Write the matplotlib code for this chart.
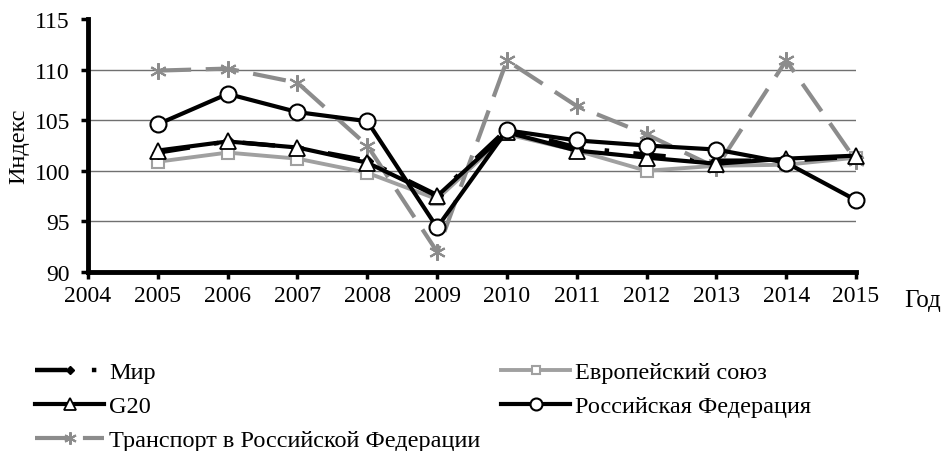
import numpy as np
import matplotlib
matplotlib.use("Agg")
import matplotlib.pyplot as plt

plt.rcParams['font.family'] = ['Liberation Serif', 'DejaVu Serif']

# data
years = [2005, 2006, 2007, 2008, 2009, 2010, 2011, 2012, 2013, 2014, 2015]
mir = [101.8, 102.9, 102.3, 101.0, 97.6, 104.1, 102.3, 101.6, 101.0, 101.0, 101.4]
eu = [100.9, 101.8, 101.2, 99.8, 97.2, 103.6, 102.0, 100.0, 100.5, 100.6, 101.3]
g20 = [102.0, 102.9, 102.3, 100.8, 97.5, 103.8, 102.0, 101.3, 100.7, 101.2, 101.5]
rf = [104.6, 107.6, 105.8, 104.9, 94.4, 104.0, 103.0, 102.5, 102.1, 100.8, 97.1]
transport = [109.9, 110.1, 108.7, 102.5, 92.0, 110.9, 106.4, 103.6, 100.3, 110.9, 101.0]

xticks = list(range(2004, 2016))
yticks = [90, 95, 100, 105, 110, 115]

fig = plt.figure(figsize=(9.49, 4.52), dpi=100)
ax = fig.add_axes([88 / 949, 1 - 273 / 452, (856 - 88) / 949, (273 - 20) / 452])

gray = '#8c8c8c'
l_eu, = ax.plot(years, eu, color='#a0a0a0', lw=2.8, marker='s', ms=8.5,
                mfc='white', mec='#a0a0a0', mew=1.5, clip_on=False, zorder=3,
                label='Европейский союз')
l_mir, = ax.plot(years, mir, color='black', lw=3.2, dashes=(7.3, 5.5, 1, 5.5),
                 marker='D', ms=6, mfc='black', mec='black', clip_on=False,
                 zorder=4, label='Мир')
l_tr, = ax.plot(years, transport, color=gray, lw=3, dashes=(8, 3.5),
                marker=(6, 2, 0), ms=12, mec=gray, mew=1.5, clip_on=False,
                zorder=5, label='Транспорт в Российской Федерации')
l_g20, = ax.plot(years, g20, color='black', lw=3, marker='^', ms=12,
                 mfc='white', mec='black', mew=1.3, clip_on=False, zorder=6,
                 label='G20')
l_rf, = ax.plot(years, rf, color='black', lw=3, marker='o', ms=11.5,
                mfc='white', mec='black', mew=1.5, clip_on=False, zorder=7,
                label='Российская Федерация')

ax.set_xlim(2004, 2015)
ax.set_ylim(90, 115)
ax.set_xticks(xticks)
ax.set_yticks(yticks)
ax.tick_params(axis='both', labelsize=17, width=2.5, length=5, direction='out')
ax.tick_params(axis='x', pad=4)
ax.tick_params(axis='y', pad=8)
ax.grid(axis='y', color='#707070', lw=1)
ax.yaxis.get_gridlines()[-1].set_visible(False)
ax.set_axisbelow(True)
for s in ['top', 'right']:
    ax.spines[s].set_visible(False)
for s in ['left', 'bottom']:
    ax.spines[s].set_linewidth(3.5)
ax.set_ylabel('Индекс', fontsize=17.5, labelpad=4)
fig.text(904 / 949, 1 - 301 / 452, 'Год', fontsize=18, va='center', ha='left')

leg_kw = dict(loc='upper left', frameon=False, fontsize=17.5, handlelength=2.85,
              handletextpad=0.2, labelspacing=0.5, markerscale=0.75,
              borderaxespad=0, borderpad=0)
col1 = [l_mir, l_g20, l_tr]
col2 = [l_eu, l_rf]
fig.legend(col1, [h.get_label() for h in col1],
           bbox_to_anchor=(35 / 949, 1 - 362 / 452), **leg_kw)
fig.legend(col2, [h.get_label() for h in col2],
           bbox_to_anchor=(501 / 949, 1 - 362 / 452), **leg_kw)

fig.savefig('out.png', dpi=100)
